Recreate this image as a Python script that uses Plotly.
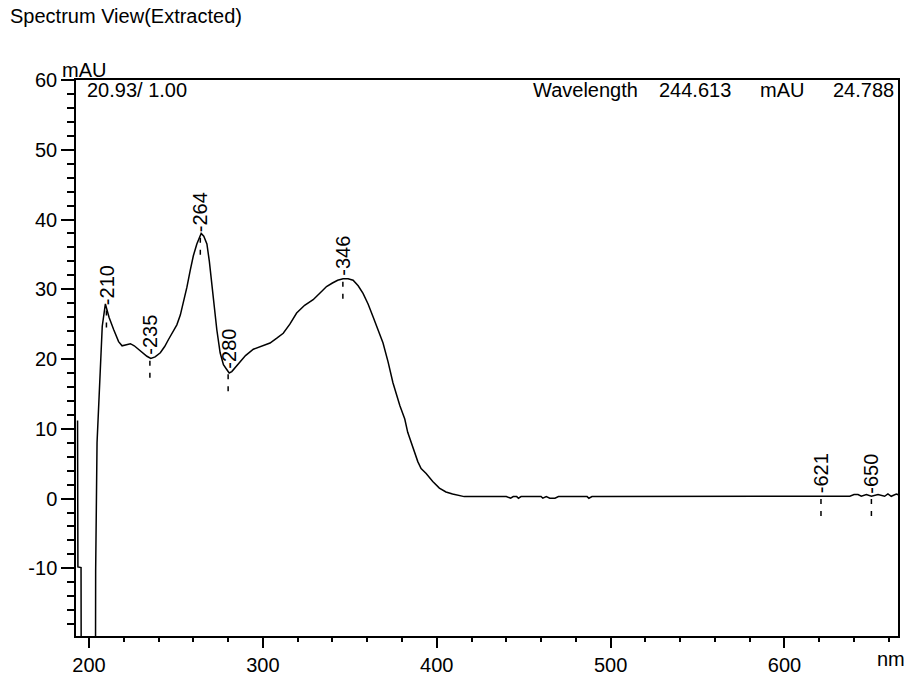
import numpy as np
import plotly.graph_objects as go

# ---- data ----
wavelength = [
    193.4, 193.6, 195.4, 195.6, 203.6, 203.8, 204.6, 206.3, 207.6, 209.4,
    211.5, 214.2, 217.0, 219.0, 221.0, 223.8, 226.0, 228.5, 231.0, 233.3,
    235.5, 238.0, 241.0, 243.5, 245.7, 248.0, 250.5, 252.5, 254.3, 256.3,
    258.2, 260.0, 262.0, 263.5, 264.5, 266.0, 267.8, 269.2, 270.6, 272.0,
    273.5, 275.4, 277.3, 279.2, 280.6, 282.1, 284.5, 286.9, 290.0, 294.5,
    299.0, 304.1, 308.0, 311.7, 315.5, 319.4, 324.0, 328.9, 333.0, 336.6,
    340.0, 343.0, 346.1, 349.0, 351.9, 354.8, 357.6, 360.5, 363.3, 366.2,
    369.1, 372.0, 374.8, 378.8, 381.6, 383.3, 385.3, 387.2, 389.1, 391.0,
    393.9, 397.7, 401.5, 405.3, 409.1, 415.8, 420.0, 425.0, 430.0, 435.0,
    440.0, 442.5, 444.0, 446.0, 447.0, 448.5, 455.0, 460.0, 461.0, 463.0,
    465.0, 468.0, 470.0, 480.0, 486.5, 487.5, 489.3, 495.0, 510.0, 530.0,
    550.0, 570.0, 590.0, 610.0, 625.0, 637.6, 640.0, 642.3, 644.2, 647.1,
    650.0, 653.8, 657.6, 659.5, 661.4, 664.3, 666.0,
]
absorbance = [
    11.2, -9.8, -9.9, -40.0, -40.0, -10.4, 8.0, 19.0, 24.7, 27.9,
    26.0, 24.2, 22.5, 21.9, 22.0, 22.2, 21.9, 21.4, 20.8, 20.4,
    20.1, 20.3, 20.9, 21.8, 22.8, 23.8, 24.9, 26.3, 28.0, 30.3,
    32.7, 34.8, 36.5, 37.6, 38.0, 37.6, 36.5, 34.0, 30.8, 27.5,
    24.2, 20.9, 19.2, 18.5, 18.0, 18.2, 18.9, 19.5, 20.5, 21.4,
    21.8, 22.3, 23.0, 23.7, 25.0, 26.6, 27.7, 28.5, 29.5, 30.4,
    30.9, 31.3, 31.5, 31.5, 31.3, 30.5, 29.4, 27.9, 26.1, 24.3,
    22.3, 19.6, 16.6, 13.3, 11.4, 9.5, 8.1, 6.7, 5.3, 4.3,
    3.6, 2.45, 1.5, 0.95, 0.66, 0.28, 0.30, 0.30, 0.28, 0.30,
    0.30, 0.05, 0.28, 0.28, 0.05, 0.28, 0.30, 0.30, 0.05, 0.28,
    0.05, 0.05, 0.28, 0.30, 0.28, 0.05, 0.28, 0.30, 0.30, 0.32,
    0.30, 0.31, 0.30, 0.32, 0.33, 0.33, 0.57, 0.57, 0.33, 0.57,
    0.33, 0.57, 0.33, 0.66, 0.33, 0.66, 0.50,
]
peak_nm = [210, 235, 264, 280, 346, 621, 650]
peak_labels = ["-210", "-235", "-264", "-280", "-346", "-621", "-650"]
x_ticks = [200, 300, 400, 500, 600]
x_ticktext = ["200", "300", "400", "500", "600"]
y_ticks = [-10, 0, 10, 20, 30, 40, 50, 60]
y_ticktext = ["-10", "0", "10", "20", "30", "40", "50", "60"]

FONT = "Liberation Sans, Arial, sans-serif"
FS = 20

peak_vals = np.interp(peak_nm, wavelength, absorbance)

fig = go.Figure()
fig.add_trace(go.Scatter(x=wavelength, y=absorbance, mode="lines",
                         line=dict(color="black", width=1.5),
                         showlegend=False, hoverinfo="skip"))

# dashed drop lines below each labelled peak
dx, dy = [], []
for w, v in zip(peak_nm, peak_vals):
    dx += [w, w, None]
    dy += [v - 0.4, v - 3.2, None]
fig.add_trace(go.Scatter(x=dx, y=dy, mode="lines",
                         line=dict(color="black", width=1.5, dash="5px,7px"),
                         showlegend=False, hoverinfo="skip"))

annotations = []
for w, v, t in zip(peak_nm, peak_vals, peak_labels):
    annotations.append(dict(x=w, y=v, xref="x", yref="y", text=t, textangle=-90,
                            showarrow=False, xanchor="center", yanchor="bottom",
                            yshift=1, font=dict(family=FONT, size=FS, color="black")))

def ptext(text, x, y, xanchor, yanchor, xshift=0, yshift=0):
    return dict(x=x, y=y, xref="paper", yref="paper", text=text, showarrow=False,
                xanchor=xanchor, yanchor=yanchor, xshift=xshift, yshift=yshift,
                font=dict(family=FONT, size=FS, color="black"))

annotations += [
    ptext("mAU", 0, 1, "left", "bottom", xshift=-16, yshift=-3),
    ptext("nm", 1, 0, "right", "top", xshift=9, yshift=-10),
    ptext("20.93/ 1.00", 0.0109, 0.9814, "left", "middle"),
    ptext("Wavelength", 0.5534, 0.9814, "left", "middle"),
    ptext("244.613", 0.7063, 0.9814, "left", "middle"),
    ptext("mAU", 0.830, 0.9814, "left", "middle"),
    ptext("24.788", 0.9976, 0.9814, "right", "middle"),
]

axis_common = dict(showline=True, linecolor="black", linewidth=1.5, mirror=True,
                   ticks="outside", tickcolor="black", tickwidth=1.5,
                   showgrid=False, zeroline=False,
                   tickfont=dict(family=FONT, size=FS, color="black"))

fig.update_layout(
    width=906, height=682,
    margin=dict(l=76, r=6, t=80, b=39, pad=0),
    paper_bgcolor="white", plot_bgcolor="white",
    title=dict(text="Spectrum View(Extracted)", xref="container", yref="container",
               x=10 / 906, xanchor="left", y=1 - 16 / 682, yanchor="middle",
               font=dict(family=FONT, size=FS, color="black")),
    xaxis=dict(range=[192.5, 665.3], tickvals=x_ticks, ticktext=x_ticktext, ticklen=10,
               minor=dict(dtick=20, ticklen=4, ticks="outside", tickcolor="black",
                          tickwidth=1.5, showgrid=False),
               **axis_common),
    yaxis=dict(range=[-19.7, 60.0], tickvals=y_ticks, ticktext=y_ticktext, ticklen=13,
               minor=dict(dtick=2, ticklen=7, ticks="outside", tickcolor="black",
                          tickwidth=1.5, showgrid=False),
               **axis_common),
    annotations=annotations,
)

fig.write_html("out.html", config={"displayModeBar": False},
               post_script="document.body.style.margin='0';document.body.style.overflow='hidden';")
